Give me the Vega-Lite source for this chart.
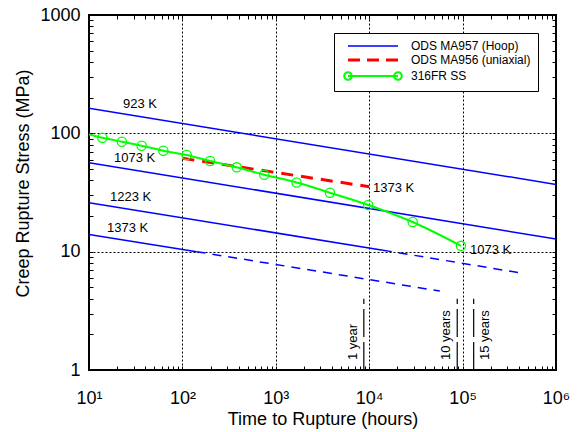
{
  "$schema": "https://vega.github.io/schema/vega-lite/v6.json",
  "width": 467,
  "height": 355,
  "autosize": {"type": "none"},
  "padding": {"left": 89, "top": 15, "right": 25, "bottom": 62},
  "config": {
    "view": {"stroke": "black", "strokeWidth": 2},
    "font": "Liberation Sans",
    "text": {"font": "Liberation Sans"}
  },
  "datasets": {
    "ods": [
      {"series": "ODS MA957 (Hoop)", "temp": "923 K", "part": "solid", "t": 10, "stress": 163},
      {"series": "ODS MA957 (Hoop)", "temp": "923 K", "part": "solid", "t": 1000000, "stress": 37},
      {"series": "ODS MA957 (Hoop)", "temp": "1073 K", "part": "solid", "t": 10, "stress": 56.5},
      {"series": "ODS MA957 (Hoop)", "temp": "1073 K", "part": "solid", "t": 1000000, "stress": 12.8},
      {"series": "ODS MA957 (Hoop)", "temp": "1223 K", "part": "solid", "t": 10, "stress": 25.9},
      {"series": "ODS MA957 (Hoop)", "temp": "1223 K", "part": "solid", "t": 14000, "stress": 10.3},
      {"series": "ODS MA957 (Hoop)", "temp": "1223 K", "part": "extrapolated", "t": 14000, "stress": 10.3},
      {"series": "ODS MA957 (Hoop)", "temp": "1223 K", "part": "extrapolated", "t": 420000, "stress": 6.6},
      {"series": "ODS MA957 (Hoop)", "temp": "1373 K", "part": "solid", "t": 10, "stress": 14.0},
      {"series": "ODS MA957 (Hoop)", "temp": "1373 K", "part": "solid", "t": 142, "stress": 10.0},
      {"series": "ODS MA957 (Hoop)", "temp": "1373 K", "part": "extrapolated", "t": 142, "stress": 10.0},
      {"series": "ODS MA957 (Hoop)", "temp": "1373 K", "part": "extrapolated", "t": 57000, "stress": 4.65}
    ],
    "ma956": [
      {"series": "ODS MA956 (uniaxial)", "temp": "1373 K", "t": 100, "stress": 61.5},
      {"series": "ODS MA956 (uniaxial)", "temp": "1373 K", "t": 10000, "stress": 35.4}
    ],
    "fr316": [
      {"series": "316FR SS", "t": 10, "stress": 98},
      {"series": "316FR SS", "t": 13.9, "stress": 91.8},
      {"series": "316FR SS", "t": 22.5, "stress": 85},
      {"series": "316FR SS", "t": 36.6, "stress": 78.6},
      {"series": "316FR SS", "t": 62.5, "stress": 71.3},
      {"series": "316FR SS", "t": 111, "stress": 65.6},
      {"series": "316FR SS", "t": 198, "stress": 58.3},
      {"series": "316FR SS", "t": 381, "stress": 51.6},
      {"series": "316FR SS", "t": 753, "stress": 44.7},
      {"series": "316FR SS", "t": 1667, "stress": 38.4},
      {"series": "316FR SS", "t": 3800, "stress": 31.5},
      {"series": "316FR SS", "t": 9770, "stress": 24.8},
      {"series": "316FR SS", "t": 29200, "stress": 17.8},
      {"series": "316FR SS", "t": 96000, "stress": 11.2}
    ],
    "templabels": [
      {"label": "923 K", "t": 23.1, "stress": 177},
      {"label": "1073 K", "t": 18.5, "stress": 61.8},
      {"label": "1223 K", "t": 16.8, "stress": 29.0},
      {"label": "1373 K", "t": 15.6, "stress": 15.8},
      {"label": "1373 K", "t": 11000, "stress": 34.5},
      {"label": "1073 K", "t": 120000, "stress": 10.3}
    ],
    "years": [
      {"label": "1 year", "t": 8760, "side": "left"},
      {"label": "10 years", "t": 87600, "side": "left"},
      {"label": "15 years", "t": 131400, "side": "right"}
    ]
  },
  "layer": [
    {
      "layer": [
        {
          "data": {"name": "ods"},
          "transform": [{"filter": "datum.part === 'solid'"}],
          "mark": {"type": "line", "strokeWidth": 1.5, "clip": true},
          "encoding": {
            "x": {
              "field": "t", "type": "quantitative",
              "scale": {"type": "log", "domain": [10, 1000000], "nice": false},
              "axis": {
                "orient": "bottom",
                "title": "Time to Rupture (hours)",
                "values": [10,20,30,40,50,60,70,80,90,100,200,300,400,500,600,700,800,900,1000,2000,3000,4000,5000,6000,7000,8000,9000,10000,20000,30000,40000,50000,60000,70000,80000,90000,100000,200000,300000,400000,500000,600000,700000,800000,900000,1000000],
                "labelExpr": "abs(log(datum.value)/LN10 - round(log(datum.value)/LN10)) < 0.001 ? '10' + ['⁰','¹','²','³','⁴','⁵','⁶'][round(log(datum.value)/LN10)] : ''",
                "labelOverlap": false,
                "labelFlush": false,
                "grid": true,
                "gridColor": "black",
                "gridDash": [2, 2],
                "gridWidth": 1,
                "gridOpacity": {"condition": {"test": "abs(log(datum.value)/LN10 - round(log(datum.value)/LN10)) < 0.001", "value": 1}, "value": 0},
                "domain": false,
                "ticks": true,
                "tickSize": -4,
                "tickColor": "black",
                "tickWidth": 1,
                "labelFont": "Liberation Sans",
                "labelFontSize": 18,
                "labelColor": "black",
                "labelPadding": 23,
                "titleFont": "Liberation Sans",
                "titleFontSize": 18,
                "titleFontWeight": "normal",
                "titleColor": "black",
                "titlePadding": 3
              }
            },
            "y": {
              "field": "stress", "type": "quantitative",
              "scale": {"type": "log", "domain": [1, 1000], "nice": false},
              "axis": {
                "orient": "left",
                "title": "Creep Rupture Stress (MPa)",
                "values": [1,2,3,4,5,6,7,8,9,10,20,30,40,50,60,70,80,90,100,200,300,400,500,600,700,800,900,1000],
                "labelExpr": "abs(log(datum.value)/LN10 - round(log(datum.value)/LN10)) < 0.001 ? format(datum.value, 'd') : ''",
                "labelOverlap": false,
                "labelFlush": false,
                "grid": true,
                "gridColor": "black",
                "gridDash": [2, 2],
                "gridWidth": 1,
                "gridOpacity": {"condition": {"test": "abs(log(datum.value)/LN10 - round(log(datum.value)/LN10)) < 0.001", "value": 1}, "value": 0},
                "domain": false,
                "ticks": true,
                "tickSize": -4,
                "tickColor": "black",
                "tickWidth": 1,
                "labelFont": "Liberation Sans",
                "labelFontSize": 18,
                "labelColor": "black",
                "labelPadding": 13,
                "titleFont": "Liberation Sans",
                "titleFontSize": 18,
                "titleFontWeight": "normal",
                "titleColor": "black",
                "titlePadding": 7,
                "titleY": 168
              }
            },
            "color": {
              "field": "series", "type": "nominal",
              "scale": {"domain": ["ODS MA957 (Hoop)", "ODS MA956 (uniaxial)", "316FR SS"], "range": ["#0000ff", "#ff0000", "#00ff00"]},
              "legend": {
                "title": null,
                "orient": "top-right",
                "offset": 18,
                "strokeColor": "black",
                "fillColor": "white",
                "padding": 7,
                "symbolSize": 100,
                "symbolOffset": 6,
                "labelOffset": 52,
                "rowPadding": 2,
                "labelFont": "Liberation Sans",
                "labelFontSize": 12,
                "labelColor": "black",
                "labelLimit": 300,
                "encode": {
                  "symbols": {
                    "update": {
                      "shape": {"signal": "datum.value === '316FR SS' ? 'M-1,0H9M-0.25,0A0.75,0.75,0,1,1,-1.75,0A0.75,0.75,0,1,1,-0.25,0M9.75,0A0.75,0.75,0,1,1,8.25,0A0.75,0.75,0,1,1,9.75,0' : 'M-1,0H9'"},
                      "strokeDash": {"signal": "datum.value === 'ODS MA956 (uniaxial)' ? [12,7] : [1,0]"},
                      "strokeWidth": {"signal": "datum.value === 'ODS MA956 (uniaxial)' ? 3 : (datum.value === '316FR SS' ? 2 : 1.5)"},
                      "fill": {"value": "transparent"},
                      "opacity": {"value": 1}
                    }
                  }
                }
              }
            },
            "detail": {"field": "temp", "type": "nominal"}
          }
        },
        {
          "data": {"name": "ods"},
          "transform": [{"filter": "datum.part === 'extrapolated'"}],
          "mark": {"type": "line", "strokeWidth": 1.5, "strokeDash": [9, 7], "color": "#0000ff", "clip": true},
          "encoding": {
            "x": {"field": "t", "type": "quantitative"},
            "y": {"field": "stress", "type": "quantitative"},
            "detail": {"field": "temp", "type": "nominal"}
          }
        },
        {
          "data": {"name": "ma956"},
          "mark": {"type": "line", "strokeWidth": 3, "strokeDash": [12, 8], "clip": true},
          "encoding": {
            "x": {"field": "t", "type": "quantitative"},
            "y": {"field": "stress", "type": "quantitative"},
            "color": {"field": "series", "type": "nominal"}
          }
        },
        {
          "data": {"name": "fr316"},
          "mark": {"type": "line", "strokeWidth": 2, "interpolate": "monotone", "clip": true},
          "encoding": {
            "x": {"field": "t", "type": "quantitative"},
            "y": {"field": "stress", "type": "quantitative"},
            "color": {"field": "series", "type": "nominal"}
          }
        },
        {
          "data": {"name": "fr316"},
          "transform": [{"filter": "datum.t > 10"}],
          "mark": {"type": "point", "shape": "circle", "filled": false, "size": 85, "strokeWidth": 1.3, "color": "#00ff00", "opacity": 1},
          "encoding": {
            "x": {"field": "t", "type": "quantitative"},
            "y": {"field": "stress", "type": "quantitative"}
          }
        },
        {
          "data": {"name": "templabels"},
          "mark": {"type": "text", "align": "left", "baseline": "middle", "fontSize": 13, "color": "black"},
          "encoding": {
            "x": {"field": "t", "type": "quantitative"},
            "y": {"field": "stress", "type": "quantitative"},
            "text": {"field": "label"}
          }
        },
        {
          "data": {"name": "years"},
          "transform": [{"filter": "datum.side === 'left'"}],
          "mark": {"type": "text", "align": "left", "baseline": "bottom", "angle": 270, "dx": 10, "dy": -4, "fontSize": 13, "color": "black"},
          "encoding": {
            "x": {"field": "t", "type": "quantitative"},
            "y": {"datum": 1, "type": "quantitative"},
            "text": {"field": "label"}
          }
        },
        {
          "data": {"name": "years"},
          "transform": [{"filter": "datum.side === 'right'"}],
          "mark": {"type": "text", "align": "left", "baseline": "top", "angle": 270, "dx": 10, "dy": 5, "fontSize": 13, "color": "black"},
          "encoding": {
            "x": {"field": "t", "type": "quantitative"},
            "y": {"datum": 1, "type": "quantitative"},
            "text": {"field": "label"}
          }
        }
      ]
    },
    {
      "data": {"name": "years"},
      "mark": {"type": "rule", "color": "black", "strokeWidth": 1.2, "strokeDash": [28, 5]},
      "encoding": {
        "x": {
          "field": "t", "type": "quantitative",
          "axis": {
            "orient": "top",
            "title": null,
            "values": [10,20,30,40,50,60,70,80,90,100,200,300,400,500,600,700,800,900,1000,2000,3000,4000,5000,6000,7000,8000,9000,10000,20000,30000,40000,50000,60000,70000,80000,90000,100000,200000,300000,400000,500000,600000,700000,800000,900000,1000000],
            "labels": false,
            "grid": false,
            "domain": false,
            "tickSize": -4,
            "tickColor": "black",
            "tickWidth": 1
          }
        },
        "y": {
          "datum": 1, "type": "quantitative",
          "axis": {
            "orient": "right",
            "title": null,
            "values": [1,2,3,4,5,6,7,8,9,10,20,30,40,50,60,70,80,90,100,200,300,400,500,600,700,800,900,1000],
            "labels": false,
            "grid": false,
            "domain": false,
            "tickSize": -4,
            "tickColor": "black",
            "tickWidth": 1
          }
        },
        "y2": {"datum": 4}
      }
    }
  ],
  "resolve": {"axis": {"x": "independent", "y": "independent"}}
}
